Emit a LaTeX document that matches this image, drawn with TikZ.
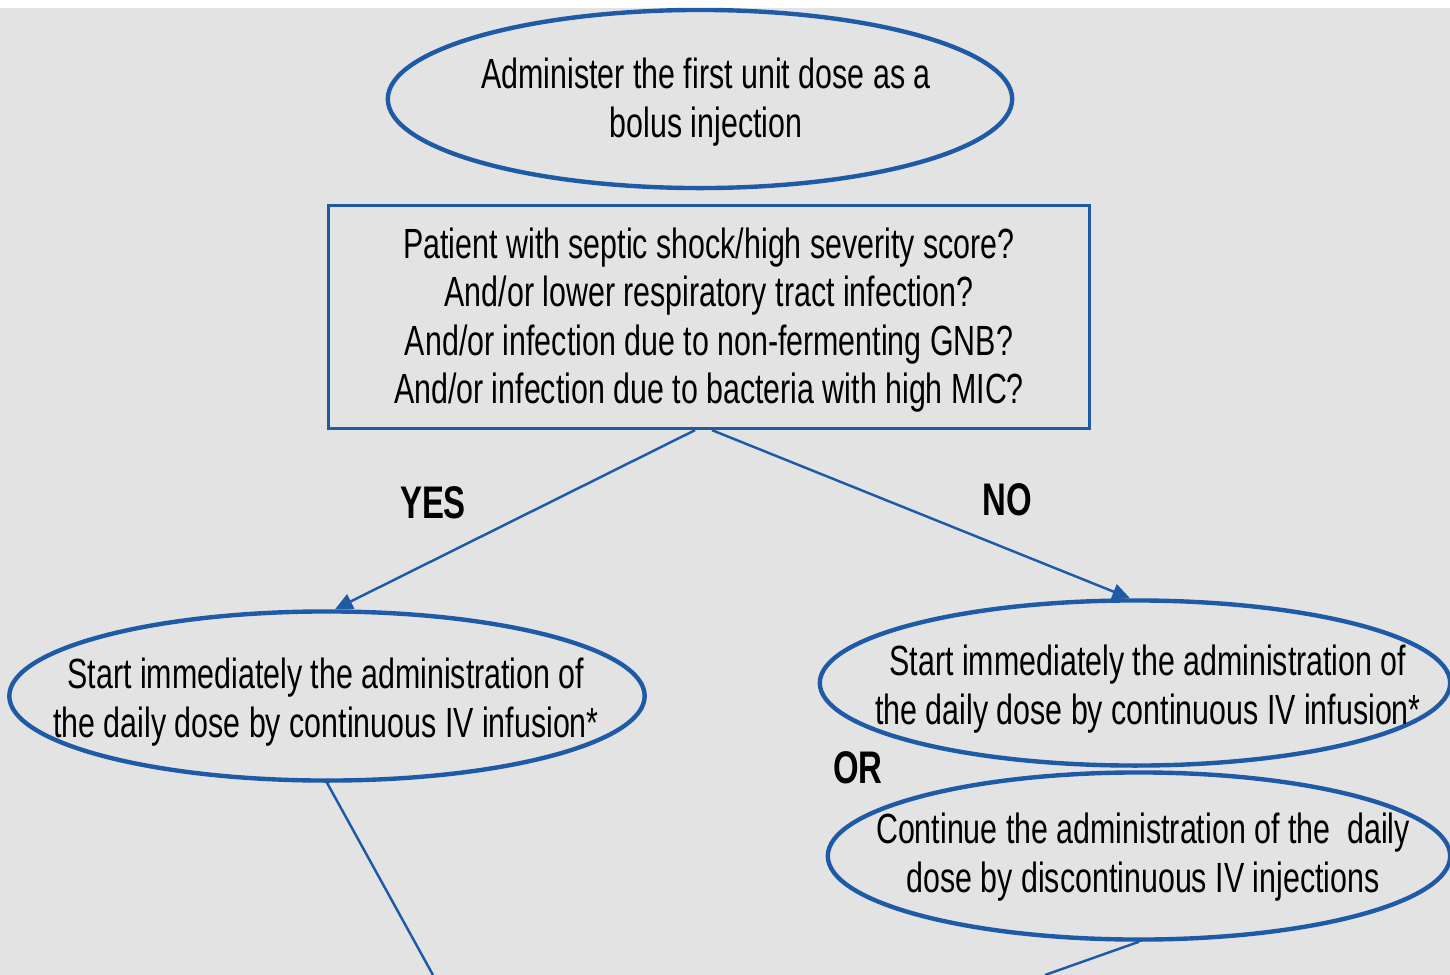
\documentclass[tikz,border=0pt]{standalone}
\usepackage{fontspec}
\setmainfont[FakeStretch=0.72]{Liberation Sans}
\usetikzlibrary{shapes.geometric,arrows.meta}
\definecolor{flowblue}{HTML}{1F5AA6}
\definecolor{bggray}{HTML}{E3E3E3}
\begin{document}
\begin{tikzpicture}[x=0.01cm,y=-0.01cm,
  txt/.style={align=center,font=\fontsize{12}{13.7}\selectfont},
  oval/.style={draw=flowblue,line width=1.25pt,ellipse,inner sep=0pt},
  qbox/.style={txt,draw=flowblue,line width=0.9pt,rectangle,inner sep=0pt},
  link/.style={draw=flowblue,line width=0.7pt},
  arrow/.style={link,-{Triangle[length=5pt,width=4.5pt]}},
  answer/.style={font=\fontsize{13}{15}\selectfont\bfseries}]

\useasboundingbox (0,0) rectangle (1450,975);
\fill[white] (0,0) rectangle (1450,8);
\fill[bggray] (0,8) rectangle (1450,975);

% ovals are drawn empty, their texts are set on top
\node[oval,minimum width=6.24cm,minimum height=1.78cm] (bolus) at (700,99) {};
\node[txt] (bolustext) at (706,102)
  {Administer the first unit dose as a\\bolus injection};

\node[qbox,minimum width=7.61cm,minimum height=2.23cm] (question) at (709,317) {};
\node[txt] (questiontext) at (709,320)
  {Patient with septic shock/high severity score?\\
   And/or lower respiratory tract infection?\\
   And/or infection due to non-fermenting GNB?\\
   And/or infection due to bacteria with high MIC?};

\node[oval,minimum width=6.35cm,minimum height=1.69cm] (contyes) at (327,696) {};
\node[txt] (contyestext) at (326,702)
  {Start immediately the administration of\\the daily dose by continuous IV infusion*};

\node[oval,minimum width=6.30cm,minimum height=1.65cm] (contno) at (1135,683) {};
\node[txt] (contnotext) at (1148,689)
  {Start immediately the administration of\\the daily dose by continuous IV infusion*};

\node[oval,minimum width=6.22cm,minimum height=1.67cm] (discont) at (1139,856) {};
\node[txt] (discontext) at (1143,857)
  {Continue the administration of the\ \ daily\\dose by discontinuous IV injections};

\node[answer] (yes) at (433,503) {YES};
\node[answer] (no) at (1007,500) {NO};
\node[answer] (or) at (858,768) {OR};

\draw[arrow] ([xshift=-0.14cm]question.south) -- ([xshift=0.08cm]contyes.north);
\draw[arrow] ([xshift=0.03cm]question.south) -- ([xshift=-0.05cm]contno.north);

\coordinate (yesout) at (433,975);
\coordinate (noout) at (1045,975);
\draw[link] (contyes.south) -- (yesout);
\draw[link] (discont.south) -- (noout);
\end{tikzpicture}
\end{document}
